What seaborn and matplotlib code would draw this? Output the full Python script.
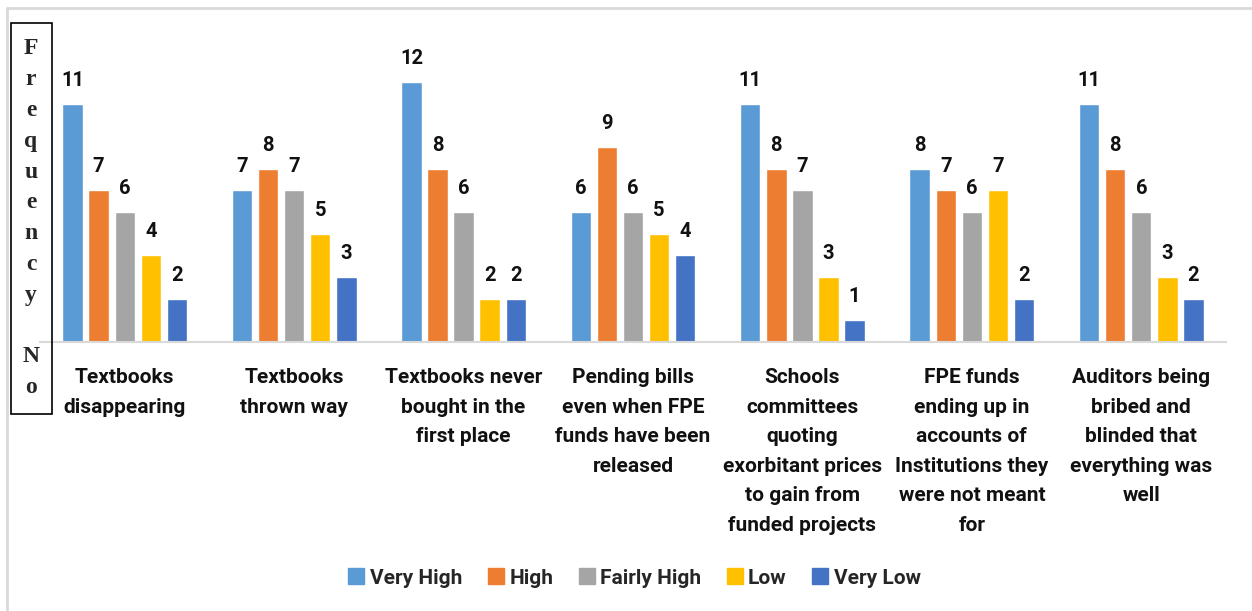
import matplotlib
matplotlib.use("Agg")
import matplotlib.pyplot as plt
import seaborn as sns
import pandas as pd
from matplotlib.lines import Line2D
from matplotlib.patches import Rectangle

categories = [
    "Textbooks\ndisappearing",
    "Textbooks\nthrown way",
    "Textbooks never\nbought in the\nfirst place",
    "Pending bills\neven when FPE\nfunds have been\nreleased",
    "Schools\ncommittees\nquoting\nexorbitant prices\nto gain from\nfunded projects",
    "FPE funds\nending up in\naccounts of\nInstitutions they\nwere not meant\nfor",
    "Auditors being\nbribed and\nblinded that\neverything was\nwell",
]
series = ["Very High", "High", "Fairly High", "Low", "Very Low"]
very_high = [11, 7, 12, 6, 11, 8, 11]
high = [7, 8, 8, 9, 8, 7, 8]
fairly_high = [6, 7, 6, 6, 7, 6, 6]
low = [4, 5, 2, 5, 3, 7, 3]
very_low = [2, 3, 2, 4, 1, 2, 2]
colors = ["#5B9BD5", "#ED7D31", "#A5A5A5", "#FFC000", "#4472C4"]
ylabel_letters = ["F", "r", "e", "q", "u", "e", "n", "c", "y", "", "N", "o"]

rows = []
for s, vals in zip(series, [very_high, high, fairly_high, low, very_low]):
    for c, v in zip(categories, vals):
        rows.append({"category": c, "series": s, "value": v})
df = pd.DataFrame(rows)

sns.set_theme(style="white")
plt.rcParams["font.family"] = ["Roboto", "DejaVu Sans"]

W, H = 1252, 611
fig = plt.figure(figsize=(W / 100, H / 100), dpi=100)
ax = fig.add_axes([40 / W, 1 - 342 / H, (1226 - 40) / W, (342 - 30) / H])

sns.barplot(data=df, x="category", y="value", hue="series", order=categories,
            hue_order=series, palette=colors, width=0.77, gap=0.22,
            saturation=1, ax=ax, legend=False)

ax.set_ylim(0, (342 - 30) / ((342 - 82) / 12))
for cont in ax.containers:
    ax.bar_label(cont, padding=10, fontsize=14.5, fontweight="bold", color="#111111")

for sp in ["top", "right", "left"]:
    ax.spines[sp].set_visible(False)
ax.spines["bottom"].set_color("#D9D9D9")
ax.spines["bottom"].set_linewidth(1.5)
ax.set_yticks([])
ax.set_xlabel("")
ax.set_ylabel("")
ax.tick_params(axis="x", length=0, pad=19)
for lab in ax.get_xticklabels():
    lab.set_fontsize(15)
    lab.set_fontweight("bold")
    lab.set_linespacing(1.70)
    lab.set_verticalalignment("top")
    lab.set_color("#111111")

handles = [Line2D([0], [0], marker="s", linestyle="", markersize=11,
                  markerfacecolor=c, markeredgecolor=c) for c in colors]
fig.legend(handles, series, loc="center", bbox_to_anchor=(0.505, 1 - 578 / H),
           ncol=5, frameon=False, handletextpad=0.05, columnspacing=1.0,
           handlelength=1.2, prop={"weight": "bold", "size": 15})

# left vertical label box
fig.add_artist(Rectangle((11 / W, 1 - 414 / H), 41 / W, (414 - 23) / H,
                         transform=fig.transFigure, fill=False,
                         edgecolor="black", linewidth=1.2))
for i, ch in enumerate(ylabel_letters):
    if ch:
        fig.text(31 / W, 1 - (49 + i * 30.8) / H, ch, ha="center", va="center",
                 fontsize=17, fontweight="bold", family="Liberation Serif")

# outer light border (top and left visible)
fig.add_artist(Line2D([7 / W, 7 / W], [0, 1 - 8 / H], transform=fig.transFigure,
                      color="#D9D9D9", linewidth=2))
fig.add_artist(Line2D([7 / W, 1], [1 - 8 / H, 1 - 8 / H], transform=fig.transFigure,
                      color="#D9D9D9", linewidth=2))

fig.savefig("out.png", dpi=100)
